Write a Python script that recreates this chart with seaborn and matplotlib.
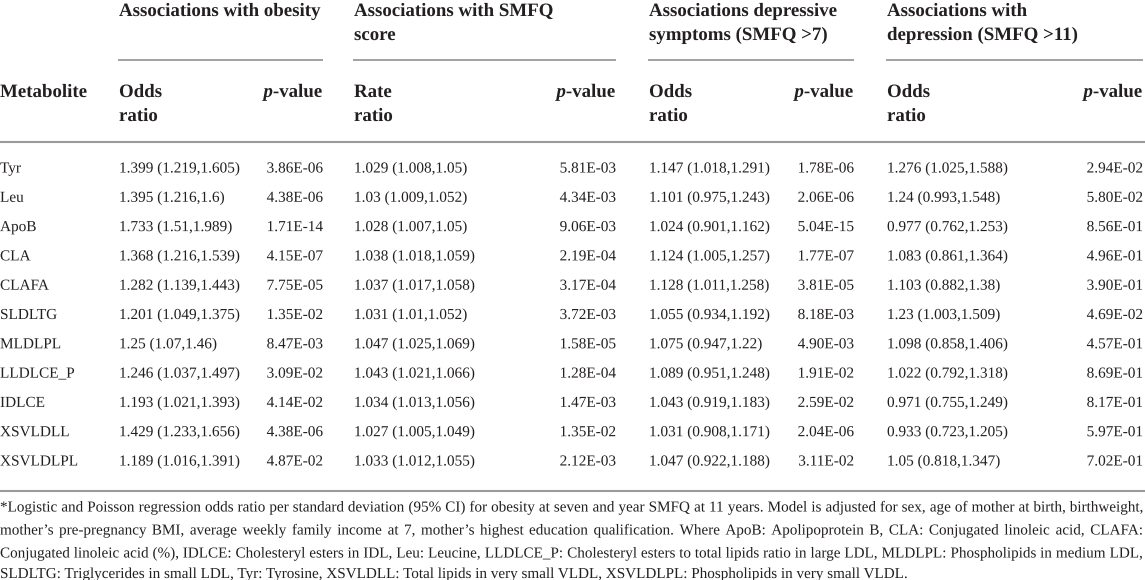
import matplotlib
matplotlib.use('Agg')
import matplotlib.pyplot as plt
import matplotlib.patheffects as pe
import seaborn as sns

# table contents
metabolites = ['Tyr', 'Leu', 'ApoB', 'CLA', 'CLAFA', 'SLDLTG', 'MLDLPL',
               'LLDLCE_P', 'IDLCE', 'XSVLDLL', 'XSVLDLPL']

obesity_or = ['1.399 (1.219,1.605)', '1.395 (1.216,1.6)', '1.733 (1.51,1.989)',
              '1.368 (1.216,1.539)', '1.282 (1.139,1.443)', '1.201 (1.049,1.375)',
              '1.25 (1.07,1.46)', '1.246 (1.037,1.497)', '1.193 (1.021,1.393)',
              '1.429 (1.233,1.656)', '1.189 (1.016,1.391)']
obesity_p = ['3.86E-06', '4.38E-06', '1.71E-14', '4.15E-07', '7.75E-05', '1.35E-02',
             '8.47E-03', '3.09E-02', '4.14E-02', '4.38E-06', '4.87E-02']

smfq_rr = ['1.029 (1.008,1.05)', '1.03 (1.009,1.052)', '1.028 (1.007,1.05)',
           '1.038 (1.018,1.059)', '1.037 (1.017,1.058)', '1.031 (1.01,1.052)',
           '1.047 (1.025,1.069)', '1.043 (1.021,1.066)', '1.034 (1.013,1.056)',
           '1.027 (1.005,1.049)', '1.033 (1.012,1.055)']
smfq_p = ['5.81E-03', '4.34E-03', '9.06E-03', '2.19E-04', '3.17E-04', '3.72E-03',
          '1.58E-05', '1.28E-04', '1.47E-03', '1.35E-02', '2.12E-03']

dep7_or = ['1.147 (1.018,1.291)', '1.101 (0.975,1.243)', '1.024 (0.901,1.162)',
           '1.124 (1.005,1.257)', '1.128 (1.011,1.258)', '1.055 (0.934,1.192)',
           '1.075 (0.947,1.22)', '1.089 (0.951,1.248)', '1.043 (0.919,1.183)',
           '1.031 (0.908,1.171)', '1.047 (0.922,1.188)']
dep7_p = ['1.78E-06', '2.06E-06', '5.04E-15', '1.77E-07', '3.81E-05', '8.18E-03',
          '4.90E-03', '1.91E-02', '2.59E-02', '2.04E-06', '3.11E-02']

dep11_or = ['1.276 (1.025,1.588)', '1.24 (0.993,1.548)', '0.977 (0.762,1.253)',
            '1.083 (0.861,1.364)', '1.103 (0.882,1.38)', '1.23 (1.003,1.509)',
            '1.098 (0.858,1.406)', '1.022 (0.792,1.318)', '0.971 (0.755,1.249)',
            '0.933 (0.723,1.205)', '1.05 (0.818,1.347)']
dep11_p = ['2.94E-02', '5.80E-02', '8.56E-01', '4.96E-01', '3.90E-01', '4.69E-02',
           '4.57E-01', '8.69E-01', '8.17E-01', '5.97E-01', '7.02E-01']

group_titles = [['Associations with obesity'],
                ['Associations with SMFQ', 'score'],
                ['Associations depressive', 'symptoms (SMFQ >7)'],
                ['Associations with', 'depression (SMFQ >11)']]
effect_labels = [['Odds', 'ratio'], ['Rate', 'ratio'], ['Odds', 'ratio'], ['Odds', 'ratio']]

footnote = ("*Logistic and Poisson regression odds ratio per standard deviation (95% CI) for obesity "
            "at seven and year SMFQ at 11 years. Model is adjusted for sex, age of mother at birth, "
            "birthweight,\nmother\u2019s pre-pregnancy BMI, average weekly family income at 7, mother\u2019s "
            "highest education qualification. Where ApoB: Apolipoprotein B, CLA: Conjugated linoleic "
            "acid, CLAFA:\nConjugated linoleic acid (%), IDLCE: Cholesteryl esters in IDL, Leu: Leucine, "
            "LLDLCE_P: Cholesteryl esters to total lipids ratio in large LDL, MLDLPL: Phospholipids in "
            "medium LDL,\nSLDLTG: Triglycerides in small LDL, Tyr: Tyrosine, XSVLDLL: Total lipids in "
            "very small VLDL, XSVLDLPL: Phospholipids in very small VLDL.")

sns.set_theme(style='white')
plt.rcParams['font.family'] = ['Liberation Serif', 'DejaVu Serif']
plt.rcParams['mathtext.fontset'] = 'custom'
plt.rcParams['mathtext.it'] = 'Liberation Serif:bold:italic'
plt.rcParams['mathtext.rm'] = 'Liberation Serif:bold'

ink = '#231f20'
rule = '#9a9a9a'
# drawing glyphs as outlines keeps every word on one common baseline
txt = dict(color=ink, va='baseline', path_effects=[pe.Normal()])

fig = plt.figure(figsize=(11.45, 5.8), dpi=100)
ax = fig.add_axes([0, 0, 1, 1])
ax.set_xlim(0, 1145)
ax.set_ylim(580, 0)
ax.axis('off')

# column layout (pixels)
col_left = [119, 354, 649, 887]
col_right = [323, 616, 854, 1143]
row_top = 168
row_step = 29.3
head_fs = 13.6
body_fs = 11.0

# group headers
for left, right, lines in zip(col_left, col_right, group_titles):
    for k, line in enumerate(lines):
        ax.text(left, 16 + 24 * k, line, fontsize=head_fs, fontweight='bold',
                ha='left', **txt)
    ax.plot([left - 1, right], [60, 60], color=rule, lw=1.3, solid_capstyle='butt')

# sub headers
ax.text(0, 97, 'Metabolite', fontsize=head_fs, fontweight='bold', ha='left', **txt)
for left, right, lab in zip(col_left, col_right, effect_labels):
    ax.text(left, 97, lab[0], fontsize=head_fs, fontweight='bold', ha='left', **txt)
    ax.text(left, 121, lab[1], fontsize=head_fs, fontweight='bold', ha='left', **txt)
    ax.text(right + 2, 97, r'$\mathit{p}$-value', fontsize=head_fs, fontweight='bold',
            ha='right', **txt)

ax.plot([0, 1145], [141.5, 141.5], color=rule, lw=1.5, solid_capstyle='butt')

# body
columns = [(obesity_or, obesity_p), (smfq_rr, smfq_p), (dep7_or, dep7_p), (dep11_or, dep11_p)]
for i, name in enumerate(metabolites):
    y = row_top + i * row_step + 4.5
    ax.text(0, y, name, fontsize=body_fs, ha='left', **txt)
    for (est, pv), left, right in zip(columns, col_left, col_right):
        ax.text(left, y, est[i], fontsize=body_fs, ha='left', **txt)
        ax.text(right, y, pv[i], fontsize=body_fs, ha='right', **txt)

ax.plot([0, 1145], [491, 491], color=rule, lw=1.5, solid_capstyle='butt')

# footnote, justified to the table width
renderer = fig.canvas.get_renderer()
foot_lines = footnote.split('\n')
foot_y = [511.5, 534.5, 557.5, 578]
to_data = ax.transData.inverted()
full = 1143


def text_width(s, fs):
    t = ax.text(0, 0, s, fontsize=fs)
    bb = t.get_window_extent(renderer=renderer)
    t.remove()
    x0 = to_data.transform((bb.x0, bb.y0))[0]
    x1 = to_data.transform((bb.x1, bb.y0))[0]
    return x1 - x0


# largest size at which every justified line still fits
foot_fs = min(10.0 * (full - 4) / text_width(line, 10.0) for line in foot_lines[:-1])

for n, (line, y) in enumerate(zip(foot_lines, foot_y)):
    if n == len(foot_lines) - 1:
        ax.text(0, y, line, fontsize=foot_fs, ha='left', **txt)
        continue
    words = line.split(' ')
    widths = [text_width(w, foot_fs) for w in words]
    gap = (full - sum(widths)) / (len(words) - 1)
    x = 0
    for w, wd in zip(words, widths):
        ax.text(x, y, w, fontsize=foot_fs, ha='left', **txt)
        x += wd + gap

fig.savefig('out.png', dpi=100, facecolor='white')
